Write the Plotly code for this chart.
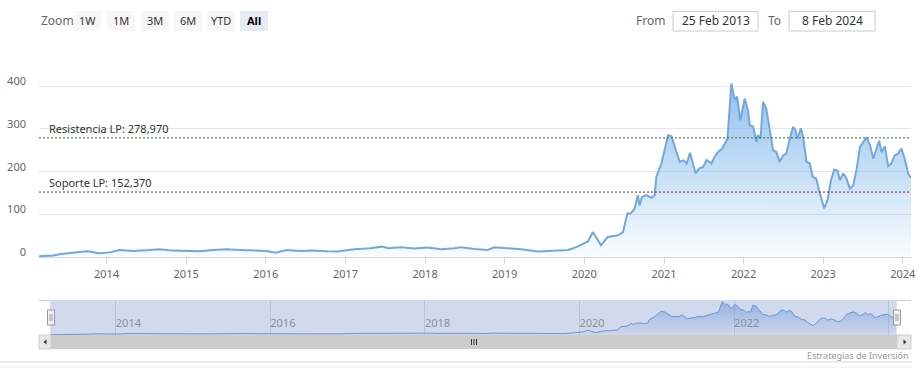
import plotly.graph_objects as go

# ---------------- data ----------------
dates = [
    "2013-02-25", "2013-04-01", "2013-05-01", "2013-05-30", "2013-07-15", "2013-09-01", "2013-10-01",
    "2013-10-25", "2013-11-20", "2013-12-15", "2014-01-15", "2014-03-01", "2014-05-01", "2014-07-01",
    "2014-09-01", "2014-11-01", "2015-01-05", "2015-03-05", "2015-05-05", "2015-07-05", "2015-09-05",
    "2015-11-05", "2016-01-05", "2016-02-15", "2016-04-05", "2016-06-05", "2016-08-05", "2016-10-05",
    "2016-11-25", "2017-02-10", "2017-04-25", "2017-06-20", "2017-07-15", "2017-09-12", "2017-11-12",
    "2018-01-12", "2018-03-15", "2018-05-15", "2018-06-15", "2018-08-15", "2018-10-15", "2018-11-15",
    "2019-01-15", "2019-03-18", "2019-06-03", "2019-08-18", "2019-10-20", "2019-12-01", "2020-01-18",
    "2020-02-10", "2020-03-18", "2020-04-18", "2020-06-05", "2020-06-27", "2020-07-17", "2020-08-01",
    "2020-08-19", "2020-09-03", "2020-09-11", "2020-09-22", "2020-10-12", "2020-11-04", "2020-11-19",
    "2020-11-27", "2020-12-20", "2021-01-20", "2021-02-04", "2021-02-27", "2021-03-14", "2021-03-30",
    "2021-04-15", "2021-04-30", "2021-05-15", "2021-05-26", "2021-06-10", "2021-06-30", "2021-07-15",
    "2021-08-07", "2021-08-22", "2021-09-06", "2021-09-25", "2021-10-06", "2021-10-19", "2021-10-25",
    "2021-11-06", "2021-11-21", "2021-12-02", "2021-12-17", "2022-01-06", "2022-01-21", "2022-01-29",
    "2022-02-14", "2022-03-01", "2022-03-08", "2022-03-20", "2022-03-31", "2022-04-15", "2022-04-30",
    "2022-05-16", "2022-05-31", "2022-06-16", "2022-07-01", "2022-07-16", "2022-08-01", "2022-08-16",
    "2022-08-27", "2022-09-05", "2022-09-21", "2022-10-01", "2022-10-17", "2022-11-01", "2022-11-14",
    "2022-11-30", "2022-12-15", "2023-01-06", "2023-01-21", "2023-02-06", "2023-02-21", "2023-03-08",
    "2023-03-19", "2023-04-03", "2023-04-18", "2023-05-04", "2023-05-19", "2023-06-04", "2023-06-19",
    "2023-07-04", "2023-07-19", "2023-08-04", "2023-08-19", "2023-09-03", "2023-09-15", "2023-09-26",
    "2023-10-11", "2023-10-26", "2023-11-10", "2023-11-25", "2023-12-11", "2023-12-26", "2024-01-10",
    "2024-01-26", "2024-02-08",
]
prices = [
    2.5, 2.8, 4.0, 7.0, 9.3, 11.5, 14.0,
    13.0, 9.5, 10.0, 11.5, 17.2, 15.0, 16.4,
    18.8, 15.6, 14.0, 14.0, 17.2, 18.8, 17.2,
    15.6, 14.9, 10.9, 17.2, 14.9, 15.6, 14.0,
    13.3, 18.8, 21.0, 25.0, 21.0, 23.4, 20.3,
    22.6, 18.8, 21.0, 23.4, 19.6, 17.2, 23.4,
    21.0, 18.8, 13.3, 15.5, 17.2, 25.0, 37.0,
    59.0, 28.0, 47.5, 51.5, 59.0, 102, 102,
    113, 145, 121, 141, 145, 139, 145,
    188, 219, 285, 283, 246, 223, 227,
    219, 244, 219, 196, 207, 211, 227,
    219, 236, 246, 254, 266, 277, 320,
    406, 368, 375, 320, 371, 344, 309,
    305, 270, 285, 278, 363, 348, 301,
    250, 246, 223, 238, 242, 277, 305,
    297, 277, 301, 281, 223, 219, 188,
    184, 153, 114, 133, 180, 205, 202,
    180, 196, 184, 160, 168, 207, 258,
    270, 280, 262, 230, 254, 272, 246,
    259, 213, 219, 238, 242, 254, 230,
    196, 185,
]

resistance_level = 278.97
support_level = 152.37
resistance_label = "Resistencia LP: 278,970"
support_label = "Soporte LP: 152,370"

y_tick_values = [0, 100, 200, 300, 400, 500]
y_tick_labels = ["0", "100", "200", "300", "400", ""]

zoom_buttons = ["1W", "1M", "3M", "6M", "YTD", "All"]
from_date_text = "25 Feb 2013"
to_date_text = "8 Feb 2024"
credit_text = "Estrategias de Inversión"

# ---------------- helpers (pixel -> paper) ----------------
W, H = 920, 376
def px(x):
    return x / W
def py(y):
    return 1 - y / H

FONT = "Noto Sans, Liberation Sans, Arial, sans-serif"

fig = go.Figure()

# main area series
fig.add_trace(go.Scatter(
    x=dates, y=prices, mode="lines", xaxis="x", yaxis="y",
    line=dict(color="#74a8dc", width=2),
    fill="tozeroy",
    fillgradient=dict(type="vertical", start=0, stop=410,
                      colorscale=[[0, "rgba(124,181,236,0.04)"], [1, "rgba(124,181,236,0.85)"]]),
    hoverinfo="skip", showlegend=False,
))

# navigator series
fig.add_trace(go.Scatter(
    x=dates, y=prices, mode="lines", xaxis="x2", yaxis="y2",
    line=dict(color="#6b94d3", width=1),
    fill="tozeroy",
    fillgradient=dict(type="vertical", start=0, stop=410,
                      colorscale=[[0, "rgba(110,150,220,0.05)"], [1, "rgba(100,140,215,0.55)"]]),
    hoverinfo="skip", showlegend=False,
))

shapes = []
annotations = []

# resistance / support lines
shapes.append(dict(type="line", xref="x", yref="y", x0=dates[0], x1=dates[-1],
                   y0=resistance_level, y1=resistance_level,
                   line=dict(color="#237a23", width=1, dash="2px,2px"), layer="above"))
shapes.append(dict(type="line", xref="x", yref="y", x0=dates[0], x1=dates[-1],
                   y0=support_level, y1=support_level,
                   line=dict(color="#8e1a1a", width=1, dash="2px,2px"), layer="above"))
annotations.append(dict(xref="paper", yref="y", x=px(47), y=resistance_level, text=resistance_label,
                        showarrow=False, xanchor="left", yanchor="bottom",
                        font=dict(family=FONT, size=11, color="#333333")))
annotations.append(dict(xref="paper", yref="y", x=px(47), y=support_level, text=support_label,
                        showarrow=False, xanchor="left", yanchor="bottom",
                        font=dict(family=FONT, size=11, color="#333333")))

# navigator mask
shapes.append(dict(type="rect", xref="paper", yref="paper", x0=px(50.2), x1=px(896.6),
                   y0=py(335), y1=py(300), fillcolor="rgba(102,133,194,0.3)",
                   line=dict(width=0), layer="below"))
# navigator outline pieces
shapes.append(dict(type="line", xref="paper", yref="paper", x0=px(39), x1=px(50.2), y0=py(300.5), y1=py(300.5),
                   line=dict(color="#cccccc", width=1)))
shapes.append(dict(type="line", xref="paper", yref="paper", x0=px(896.6), x1=px(911), y0=py(300.5), y1=py(300.5),
                   line=dict(color="#cccccc", width=1)))

# scrollbar
shapes.append(dict(type="rect", xref="paper", yref="paper", x0=px(39), x1=px(911), y0=py(349), y1=py(335),
                   fillcolor="#f2f2f2", line=dict(width=0)))
shapes.append(dict(type="rect", xref="paper", yref="paper", x0=px(51), x1=px(897), y0=py(349), y1=py(335),
                   fillcolor="#cccccc", line=dict(width=0)))
shapes.append(dict(type="rect", xref="paper", yref="paper", x0=px(39), x1=px(51), y0=py(349), y1=py(335),
                   fillcolor="#e6e6e6", line=dict(color="#cccccc", width=1)))
shapes.append(dict(type="rect", xref="paper", yref="paper", x0=px(897), x1=px(911), y0=py(349), y1=py(335),
                   fillcolor="#e6e6e6", line=dict(color="#cccccc", width=1)))
# arrows
def tri(points):
    return "M " + " L ".join(f"{px(a)},{py(b)}" for a, b in points) + " Z"
shapes.append(dict(type="path", xref="paper", yref="paper", path=tri([(43.5, 342), (46.5, 339.5), (46.5, 344.5)]),
                   fillcolor="#333333", line=dict(width=0)))
shapes.append(dict(type="path", xref="paper", yref="paper", path=tri([(906.5, 342), (903.5, 339.5), (903.5, 344.5)]),
                   fillcolor="#333333", line=dict(width=0)))
# rifles
for xr in (471.5, 474, 476.5):
    shapes.append(dict(type="line", xref="paper", yref="paper", x0=px(xr), x1=px(xr), y0=py(339), y1=py(345),
                       line=dict(color="#333333", width=1)))

# handles
for hx in (51, 897):
    shapes.append(dict(type="rect", xref="paper", yref="paper", x0=px(hx - 3.5), x1=px(hx + 3.5),
                       y0=py(325), y1=py(310), fillcolor="#f2f2f2", line=dict(color="#999999", width=1)))
    for dx in (-1, 1):
        shapes.append(dict(type="line", xref="paper", yref="paper", x0=px(hx + dx), x1=px(hx + dx),
                           y0=py(321), y1=py(314), line=dict(color="#999999", width=1)))

# bottom separators
shapes.append(dict(type="line", xref="paper", yref="paper", x0=0, x1=px(912), y0=py(362), y1=py(362),
                   line=dict(color="#d6d6d6", width=1)))
shapes.append(dict(type="line", xref="paper", yref="paper", x0=0, x1=px(912), y0=py(367), y1=py(367),
                   line=dict(color="#eeeeee", width=1)))
annotations.append(dict(xref="paper", yref="paper", x=px(911), y=py(355), text=credit_text, showarrow=False,
                        xanchor="right", yanchor="middle", font=dict(family=FONT, size=9, color="#999999")))

# range selector (zoom buttons)
annotations.append(dict(xref="paper", yref="paper", x=px(39), y=py(21), text="Zoom", showarrow=False,
                        xanchor="left", yanchor="middle", font=dict(family=FONT, size=12, color="#666666")))
button_x = [73, 107, 141, 174, 207, 240]
for lbl, bx in zip(zoom_buttons, button_x):
    selected = lbl == "All"
    shapes.append(dict(type="rect", xref="paper", yref="paper", x0=px(bx), x1=px(bx + 28), y0=py(31), y1=py(11),
                       fillcolor="#e6ebf5" if selected else "#f7f7f7", line=dict(width=0)))
    annotations.append(dict(xref="paper", yref="paper", x=px(bx + 14), y=py(21),
                            text=f"<b>{lbl}</b>" if selected else lbl, showarrow=False,
                            xanchor="center", yanchor="middle",
                            font=dict(family=FONT, size=11, color="#000000" if selected else "#333333")))

# input boxes
annotations.append(dict(xref="paper", yref="paper", x=px(667), y=py(21), text="From", showarrow=False,
                        xanchor="right", yanchor="middle", font=dict(family=FONT, size=12, color="#666666")))
shapes.append(dict(type="rect", xref="paper", yref="paper", x0=px(673), x1=px(758), y0=py(31), y1=py(11.5),
                   fillcolor="white", line=dict(color="#cccccc", width=1)))
annotations.append(dict(xref="paper", yref="paper", x=px(715.5), y=py(21), text=from_date_text, showarrow=False,
                        xanchor="center", yanchor="middle", font=dict(family=FONT, size=12, color="#333333")))
annotations.append(dict(xref="paper", yref="paper", x=px(783), y=py(21), text="To", showarrow=False,
                        xanchor="right", yanchor="middle", font=dict(family=FONT, size=12, color="#666666")))
shapes.append(dict(type="rect", xref="paper", yref="paper", x0=px(789), x1=px(875), y0=py(31), y1=py(11.5),
                   fillcolor="white", line=dict(color="#cccccc", width=1)))
annotations.append(dict(xref="paper", yref="paper", x=px(832), y=py(21), text=to_date_text, showarrow=False,
                        xanchor="center", yanchor="middle", font=dict(family=FONT, size=12, color="#333333")))

fig.update_layout(
    width=W, height=H,
    margin=dict(l=0, r=0, t=0, b=0),
    paper_bgcolor="white", plot_bgcolor="rgba(0,0,0,0)",
    showlegend=False,
    font=dict(family=FONT, size=11, color="#666666"),
    xaxis=dict(
        domain=[px(39), px(911)], anchor="y", type="date",
        range=[dates[0], dates[-1]],
        showgrid=False, zeroline=False,
        showline=True, linecolor="#ccd6eb", linewidth=1,
        ticks="outside", ticklen=6, tickcolor="#ccd6eb",
        tick0="2014-01-01", dtick="M12", tickformat="%Y",
        tickfont=dict(family=FONT, size=11, color="#666666"),
        fixedrange=True, automargin=False,
    ),
    yaxis=dict(
        domain=[py(257.3), py(43.2)], anchor="x",
        range=[0, 500],
        tickmode="array", tickvals=y_tick_values, ticktext=y_tick_labels,
        showgrid=True, gridcolor="#e6e6e6", gridwidth=1,
        zeroline=False, showline=False, ticks="",
        ticklabelstandoff=12, ticklabelshift=-5,
        tickfont=dict(family=FONT, size=11, color="#666666"),
        fixedrange=True, automargin=False,
    ),
    xaxis2=dict(
        domain=[px(50.2), px(896.6)], anchor="y2", type="date",
        range=[dates[0], dates[-1]],
        showgrid=True, gridcolor="#b9c4dc", gridwidth=1,
        zeroline=False, showline=False, ticks="",
        tick0="2014-01-01", dtick="M24", tickformat="%Y",
        ticklabelposition="inside right",
        tickfont=dict(family=FONT, size=11, color="#8a8f99"),
        fixedrange=True, automargin=False,
    ),
    yaxis2=dict(
        domain=[py(335), py(300)], anchor="x2",
        range=[0, 425],
        showgrid=False, zeroline=False, showline=False,
        showticklabels=False, ticks="",
        fixedrange=True, automargin=False,
    ),
    shapes=shapes,
    annotations=annotations,
)

fig.write_html(
    "out.html",
    config={"displayModeBar": False},
    post_script="document.body.style.margin='0';document.body.style.overflow='hidden';",
)
